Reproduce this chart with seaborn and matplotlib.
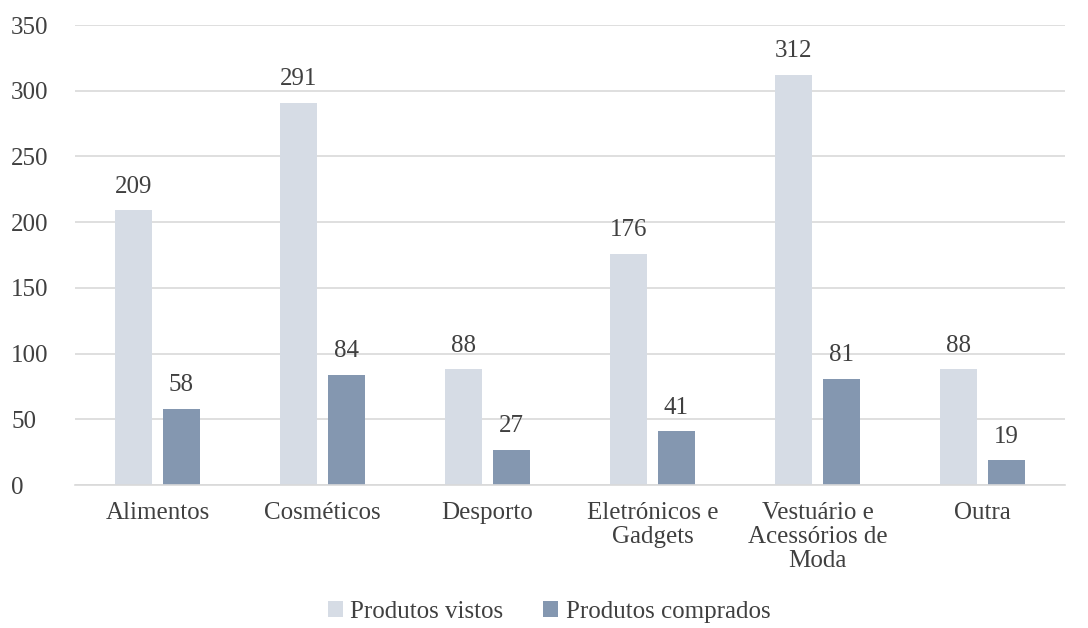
import pandas as pd
import matplotlib.pyplot as plt
import seaborn as sns

# Chart data
categorias = ["Alimentos", "Cosméticos", "Desporto", "Eletrónicos e\nGadgets",
              "Vestuário e\nAcessórios de\nModa", "Outra"]
vistos = [209, 291, 88, 176, 312, 88]
comprados = [58, 84, 27, 41, 81, 19]
series = ["Produtos vistos", "Produtos comprados"]

df = pd.DataFrame({
    "categoria": categorias * 2,
    "serie": [series[0]] * len(categorias) + [series[1]] * len(categorias),
    "valor": vistos + comprados,
})

sns.set_theme(style="white")
plt.rcParams['font.family'] = ['Liberation Serif', 'DejaVu Serif']
text_col = "#404040"
fs = 18

fig = plt.figure(figsize=(10.88, 6.28), dpi=100)
ax = fig.add_axes([75 / 1088, 1 - 485 / 628, 990 / 1088, 460 / 628])

sns.barplot(data=df, x="categoria", y="valor", hue="serie", hue_order=series,
            palette=["#D6DCE5", "#8497B0"], width=0.58, gap=0.21,
            saturation=1, linewidth=0, ax=ax, legend=True)

for c in ax.containers:
    ax.bar_label(c, padding=9, fontsize=fs, color=text_col)

ax.set_ylim(0, 350)
ax.set_yticks(range(0, 351, 50))
ax.set_xlim(-0.5, len(categorias) - 0.5)
ax.yaxis.grid(True, color="#D9D9D9", linewidth=1.2)
ax.set_axisbelow(True)
for s in ["top", "right", "left"]:
    ax.spines[s].set_visible(False)
ax.spines["bottom"].set_color("#D9D9D9")
ax.spines["bottom"].set_linewidth(1.2)
ax.tick_params(axis="both", length=0, labelsize=fs, colors=text_col)
ax.tick_params(axis="y", pad=46)
for lab in ax.get_yticklabels():
    lab.set_horizontalalignment("left")
ax.tick_params(axis="x", pad=12)
for lab in ax.get_xticklabels():
    lab.set_linespacing(1.12)
ax.set_xlabel("")
ax.set_ylabel("")

ax.legend(loc="center", bbox_to_anchor=((549 - 75) / 990, 1 - (612 - 25) / 460), ncol=2,
          frameon=False, fontsize=fs, handlelength=0.6, handleheight=0.6,
          handletextpad=0.3, columnspacing=1.6, labelcolor=text_col)

fig.savefig("out.png", dpi=100)
